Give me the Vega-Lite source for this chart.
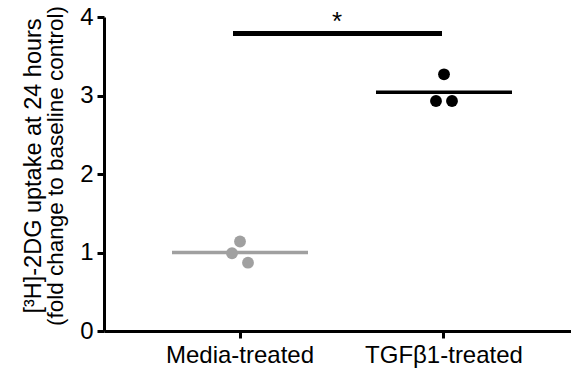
{
  "$schema": "https://vega.github.io/schema/vega-lite/v6.json",
  "width": 467,
  "height": 314,
  "autosize": "none",
  "padding": {"left": 104, "top": 17, "right": 0, "bottom": 39},
  "title": {
    "text": "[³H]-2DG uptake at 24 hours",
    "subtitle": "(fold change to baseline control)",
    "orient": "left",
    "anchor": "middle",
    "font": "Liberation Sans",
    "fontSize": 23.5,
    "fontWeight": "normal",
    "color": "#000000",
    "subtitleFont": "Liberation Sans",
    "subtitleFontSize": 22.5,
    "subtitleColor": "#000000",
    "subtitlePadding": 0,
    "offset": 12,
    "dx": 8
  },
  "config": {
    "view": {"stroke": null},
    "font": "Liberation Sans",
    "axis": {"grid": false, "domainColor": "#000000", "tickColor": "#000000", "labelColor": "#000000", "titleColor": "#000000"}
  },
  "datasets": {
    "points": [
      {"group": "Media-treated", "replicate": "1", "value": 0.99},
      {"group": "Media-treated", "replicate": "2", "value": 1.14},
      {"group": "Media-treated", "replicate": "3", "value": 0.87},
      {"group": "TGFβ1-treated", "replicate": "1", "value": 2.93},
      {"group": "TGFβ1-treated", "replicate": "2", "value": 3.27},
      {"group": "TGFβ1-treated", "replicate": "3", "value": 2.93}
    ],
    "means": [
      {"group": "Media-treated", "mean": 1.0},
      {"group": "TGFβ1-treated", "mean": 3.04}
    ],
    "sig": [
      {"from": "Media-treated", "to": "TGFβ1-treated", "y": 3.79, "label": "*"}
    ]
  },
  "layer": [
    {
      "data": {"name": "means"},
      "mark": {"type": "tick", "orient": "horizontal", "size": 136, "thickness": 3.5, "opacity": 1},
      "encoding": {
        "x": {
          "field": "group", "type": "nominal",
          "scale": {"domain": ["Media-treated", "TGFβ1-treated"], "range": [0, 476], "paddingInner": 0, "paddingOuter": 0.16667},
          "axis": {"title": null, "labelAngle": 0, "labelFontSize": 24, "labelPadding": 5, "domainWidth": 3, "tickWidth": 3, "tickSize": 7}
        },
        "y": {
          "field": "mean", "type": "quantitative",
          "scale": {"domain": [0, 4], "nice": false},
          "axis": {
            "values": [0, 1, 2, 3, 4],
            "format": "d",
            "title": null,
            "labelFontSize": 24, "labelPadding": 4, "domainWidth": 3, "tickWidth": 3, "tickSize": 7
          }
        },
        "color": {"field": "group", "type": "nominal", "scale": {"domain": ["Media-treated", "TGFβ1-treated"], "range": ["#a0a0a0", "#000000"]}, "legend": null}
      }
    },
    {
      "data": {"name": "points"},
      "mark": {"type": "circle", "size": 140, "opacity": 1},
      "encoding": {
        "x": {"field": "group", "type": "nominal"},
        "xOffset": {"field": "replicate", "type": "nominal", "scale": {"domain": ["1", "2", "3"], "range": [94, 110], "paddingInner": 0, "paddingOuter": 0}},
        "y": {"field": "value", "type": "quantitative"},
        "color": {"field": "group", "type": "nominal", "legend": null}
      }
    },
    {
      "data": {"name": "sig"},
      "mark": {"type": "rule", "strokeWidth": 5, "color": "#000000", "xOffset": -7, "x2Offset": -2},
      "encoding": {
        "x": {"field": "from", "type": "nominal"},
        "x2": {"field": "to"},
        "y": {"field": "y", "type": "quantitative"}
      }
    },
    {
      "data": {"name": "sig"},
      "mark": {"type": "text", "fontSize": 26, "color": "#000000", "baseline": "alphabetic", "align": "center", "dx": 97, "dy": -3},
      "encoding": {
        "x": {"field": "from", "type": "nominal"},
        "y": {"field": "y", "type": "quantitative"},
        "text": {"field": "label"}
      }
    }
  ]
}
